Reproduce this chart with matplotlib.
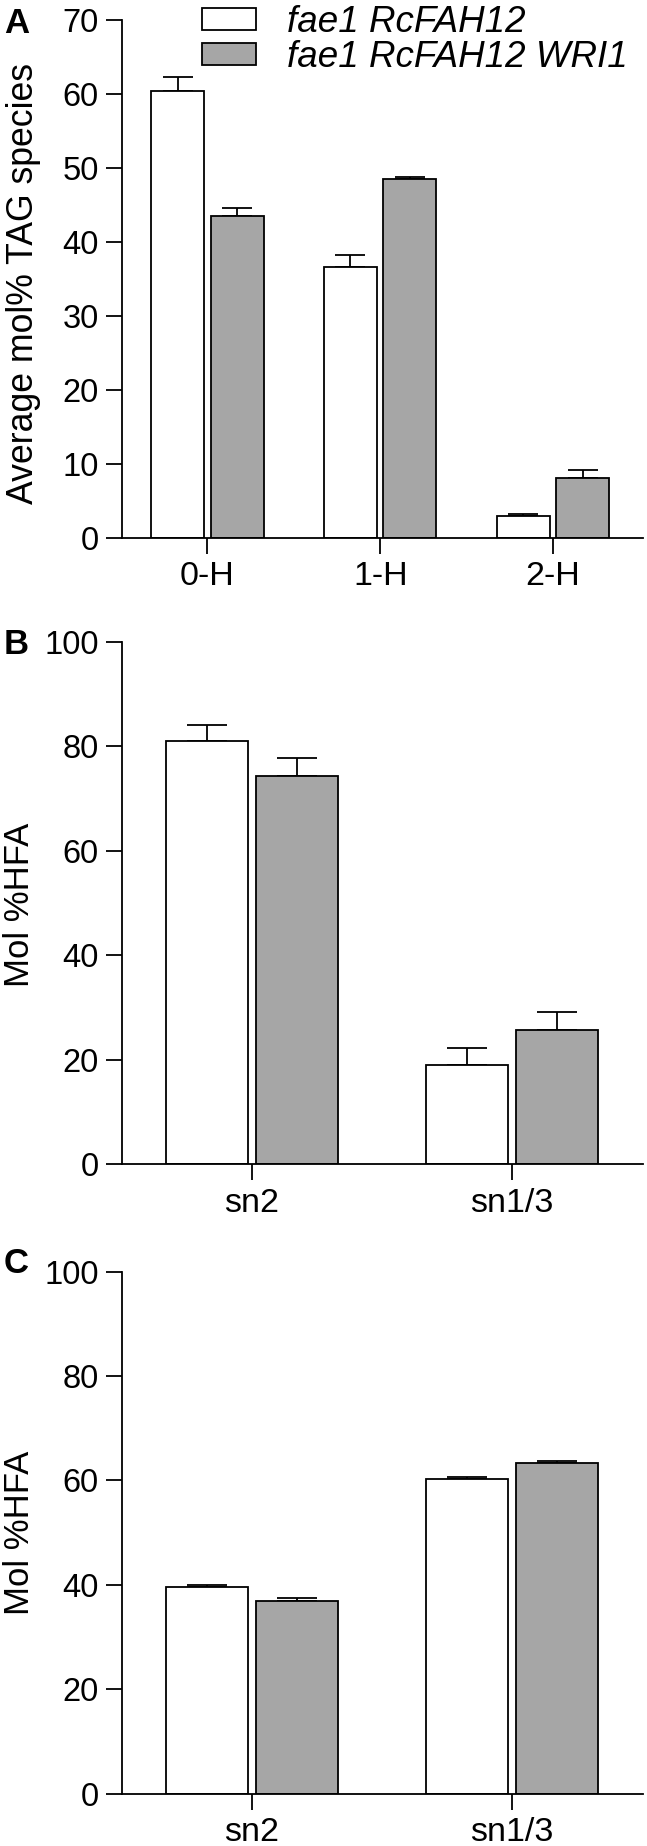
import matplotlib
matplotlib.use("Agg")
import matplotlib.pyplot as plt
import numpy as np
from matplotlib.patches import Patch

plt.rcParams['font.family'] = ['Liberation Sans', 'DejaVu Sans']

# ---- data ----
series_names = ["fae1 RcFAH12", "fae1 RcFAH12 WRI1"]

a_categories = ["0-H", "1-H", "2-H"]
a_white = [60.4, 36.6, 2.9]
a_white_err = [1.9, 1.6, 0.3]
a_gray = [43.5, 48.5, 8.1]
a_gray_err = [1.1, 0.3, 1.0]

b_categories = ["sn2", "sn1/3"]
b_white = [81.0, 18.9]
b_white_err = [3.1, 3.3]
b_gray = [74.2, 25.6]
b_gray_err = [3.5, 3.5]

c_categories = ["sn2", "sn1/3"]
c_white = [39.6, 60.2]
c_white_err = [0.4, 0.4]
c_gray = [36.8, 63.4]
c_gray_err = [0.6, 0.4]

W, H = 647, 1846
fig = plt.figure(figsize=(W / 100, H / 100), dpi=100)

GRAY = "#a6a6a6"
LW = 1.3
TICK_FS = 23.5
XLAB_FS = 24.5


def rect(left_px, right_px, top_px, bottom_px):
    return [left_px / W, 1 - bottom_px / H, (right_px - left_px) / W, (bottom_px - top_px) / H]


def panel(r, cats, white, werr, gray, gerr, ylim, yticks, xlim, width, off, cap,
          ylabel, ylab_fs, ylab_x, ylab_y, letter, letter_y):
    ax = fig.add_axes(r)
    x = np.arange(len(cats))
    ax.bar(x - off, white, width, color="white", edgecolor="black", linewidth=LW, zorder=2)
    ax.bar(x + off, gray, width, color=GRAY, edgecolor="black", linewidth=LW, zorder=2)
    ax.errorbar(x - off, white, yerr=[np.zeros(len(white)), werr], fmt="none", ecolor="black",
                elinewidth=LW, capsize=cap, capthick=LW, zorder=1)
    ax.errorbar(x + off, gray, yerr=[np.zeros(len(gray)), gerr], fmt="none", ecolor="black",
                elinewidth=LW, capsize=cap, capthick=LW, zorder=1)
    ax.set_xlim(*xlim)
    ax.set_ylim(*ylim)
    ax.set_yticks(yticks)
    ax.set_xticks(x)
    ax.set_xticklabels(cats, fontsize=XLAB_FS)
    ax.tick_params(axis="y", labelsize=TICK_FS, length=11.5, width=LW, pad=5.5, direction="out")
    ax.tick_params(axis="x", length=11.5, width=LW, pad=5.5, direction="out")
    for s in ["top", "right"]:
        ax.spines[s].set_visible(False)
    for s in ["left", "bottom"]:
        ax.spines[s].set_linewidth(LW)
    fig.text(ylab_x / W, 1 - ylab_y / H, ylabel, rotation=90, rotation_mode="anchor",
             ha="center", va="baseline", fontsize=ylab_fs)
    fig.text(4 / W, 1 - letter_y / H, letter, fontsize=25, fontweight="bold", ha="left", va="baseline")
    return ax


axA = panel(rect(122.4, 643, 20.2, 537.6), a_categories, a_white, a_white_err, a_gray, a_gray_err,
            (0, 70), np.arange(0, 71, 10), (-0.492, 2.521), 0.307, 0.172, 10.5,
            "Average mol% TAG species", 25.7, 33, 284, "A", 33)
axB = panel(rect(122.4, 643.3, 641.7, 1164), b_categories, b_white, b_white_err, b_gray, b_gray_err,
            (0, 100), np.arange(0, 101, 20), (-0.498, 1.505), 0.315, 0.172, 14.5,
            "Mol %HFA", 25, 29, 905, "B", 654)
axC = panel(rect(122.4, 643.3, 1271.7, 1793.5), c_categories, c_white, c_white_err, c_gray, c_gray_err,
            (0, 100), np.arange(0, 101, 20), (-0.498, 1.505), 0.315, 0.172, 14.5,
            "Mol %HFA", 25, 29, 1533, "C", 1273)

handles = [Patch(facecolor="white", edgecolor="black", linewidth=LW),
           Patch(facecolor=GRAY, edgecolor="black", linewidth=LW)]
fig.legend(handles, series_names, loc="upper left", bbox_to_anchor=(201.7 / W, 1 - 5 / H),
           frameon=False, borderpad=0, borderaxespad=0, handlelength=1.47, handleheight=0.57,
           handletextpad=0.85, labelspacing=0.0, prop={"size": 26.5, "style": "italic"})

fig.savefig("out.png", dpi=100)
